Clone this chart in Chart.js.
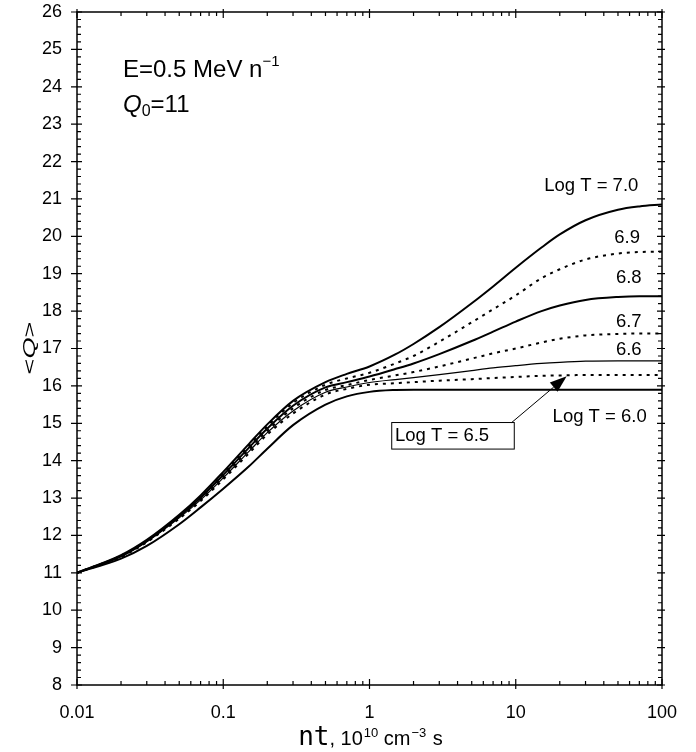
<!DOCTYPE html>
<html>
<head>
<meta charset="utf-8">
<script src="https://cdn.jsdelivr.net/npm/chart.js@4.4.1/dist/chart.umd.min.js"></script>
<style>html,body{margin:0;padding:0;background:#fff}#wrap{width:696px;height:752px}</style>
</head>
<body>
<div id="wrap"><canvas id="c" width="696" height="752"></canvas></div>
<script>
// ==================================================
// Data
// ==================================================
const NT=[0.01,0.02,0.03,0.05,0.07,0.1,0.15,0.2,0.3,0.5,0.7,1,1.5,2,3,5,7,10,15,20,30,50,70,100];
const Q_T70=[11,11.47,11.88,12.55,13.07,13.7,14.45,14.97,15.6,16.1,16.32,16.52,16.84,17.12,17.57,18.21,18.66,19.16,19.7,20.05,20.43,20.71,20.8,20.85];
const Q_T69=[11,11.46,11.86,12.53,13.04,13.66,14.4,14.92,15.54,16.03,16.2,16.35,16.6,16.8,17.18,17.7,18.05,18.42,18.88,19.12,19.38,19.54,19.58,19.59];
const Q_T68=[11,11.45,11.85,12.51,13.01,13.62,14.35,14.86,15.47,15.96,16.1,16.25,16.45,16.6,16.85,17.2,17.45,17.72,18.0,18.15,18.3,18.38,18.4,18.4];
const Q_T67=[11,11.44,11.84,12.49,12.98,13.58,14.3,14.8,15.4,15.89,16.02,16.16,16.28,16.37,16.52,16.73,16.87,17.0,17.16,17.26,17.35,17.39,17.4,17.4];
const Q_T66=[11,11.43,11.83,12.47,12.95,13.54,14.25,14.75,15.33,15.83,15.97,16.09,16.17,16.22,16.3,16.41,16.48,16.54,16.6,16.63,16.66,16.67,16.67,16.67];
const Q_T65=[11,11.42,11.82,12.45,12.92,13.5,14.2,14.7,15.26,15.77,15.92,16.03,16.07,16.1,16.14,16.18,16.21,16.24,16.27,16.28,16.29,16.29,16.29,16.29];
const Q_T60=[11,11.38,11.72,12.3,12.75,13.25,13.85,14.32,14.95,15.5,15.72,15.84,15.89,15.9,15.9,15.9,15.9,15.9,15.9,15.9,15.9,15.9,15.9,15.9];
const X_TICKS=[0.01,0.1,1,10,100];
const Y_MIN=8,Y_MAX=26;

// curve labels: text, anchor (nt, Q), right-aligned
const CURVE_LABELS=[
  {t:'Log T = 7.0',x:68.9,y:21.35},
  {t:'6.9',x:70.7,y:19.95},
  {t:'6.8',x:72.6,y:18.88},
  {t:'6.7',x:72.6,y:17.71},
  {t:'6.6',x:72.6,y:16.96},
  {t:'Log T = 6.0',x:78.6,y:15.17}
];
const BOX_65={t:'Log T = 6.5',x0:1.419,x1:9.77,y0:15.02,y1:14.31,tx:1.494,ty:14.66,ax:9.38,ay:15.02,tipX:22.3,tipY:16.26};

const FONT='"Liberation Sans", Arial, Helvetica, sans-serif';

function line(data,width,dash){
  return {data:NT.map((x,i)=>({x,y:data[i]})),showLine:true,borderColor:'#000',borderWidth:width,
    borderDash:dash||[],pointRadius:0,fill:false,cubicInterpolationMode:'monotone'};
}

// draw a run of text pieces with different fonts / offsets
function drawRun(ctx,parts,x,y,align){
  let w=0;
  parts.forEach(p=>{ctx.font=p.f;w+=ctx.measureText(p.t).width+(p.gap||0);});
  let cx=align==='center'?x-w/2:x;
  ctx.textAlign='left';ctx.textBaseline='alphabetic';
  parts.forEach(p=>{ctx.font=p.f;cx+=(p.gap||0);ctx.fillText(p.t,cx,y+(p.dy||0));cx+=ctx.measureText(p.t).width;});
}

// keep the plot box where the reference has it
function noPad(s){s.paddingTop=0;s.paddingBottom=0;s.paddingLeft=0;s.paddingRight=0;}

// ==================================================
// Frame, inside ticks, annotations
// ==================================================
const decor={id:'decor',afterDatasetsDraw(chart){
  const {ctx,chartArea:a,scales:{x,y}}=chart;
  ctx.save();
  ctx.strokeStyle='#000';ctx.fillStyle='#000';
  ctx.lineWidth=1.5;
  ctx.strokeRect(a.left,a.top,a.right-a.left,a.bottom-a.top);
  ctx.lineWidth=1.2;
  ctx.beginPath();
  // y ticks
  for(let v=Y_MIN;v<=Y_MAX+1e-6;v+=0.2){
    const py=y.getPixelForValue(v),major=Math.abs(v-Math.round(v))<1e-6;
    if(major){ctx.moveTo(a.left-6,py);ctx.lineTo(a.left+5,py);ctx.moveTo(a.right-5,py);ctx.lineTo(a.right+3,py);}
    else{ctx.moveTo(a.left,py);ctx.lineTo(a.left+4,py);ctx.moveTo(a.right-4,py);ctx.lineTo(a.right,py);}
  }
  // x ticks
  for(let d=-2;d<=2;d++){
    for(let m=1;m<=9;m++){
      const v=m*Math.pow(10,d);if(v>100.0001)break;
      const px=x.getPixelForValue(v);
      if(m===1){ctx.moveTo(px,a.bottom+4);ctx.lineTo(px,a.bottom-6);ctx.moveTo(px,a.top-3);ctx.lineTo(px,a.top+6);}
      else{ctx.moveTo(px,a.bottom);ctx.lineTo(px,a.bottom-4);ctx.moveTo(px,a.top);ctx.lineTo(px,a.top+4);}
    }
  }
  ctx.stroke();

  // curve labels
  ctx.font='18.5px '+FONT;ctx.textAlign='right';ctx.textBaseline='middle';
  CURVE_LABELS.forEach(l=>ctx.fillText(l.t,x.getPixelForValue(l.x),y.getPixelForValue(l.y)));

  // boxed label with arrow
  const b=BOX_65;
  const bx0=x.getPixelForValue(b.x0),bx1=x.getPixelForValue(b.x1),by0=y.getPixelForValue(b.y0),by1=y.getPixelForValue(b.y1);
  ctx.lineWidth=1;
  ctx.strokeRect(bx0,by0,bx1-bx0,by1-by0);
  ctx.textAlign='left';
  ctx.fillText(b.t,x.getPixelForValue(b.tx),y.getPixelForValue(b.ty));
  const ax=x.getPixelForValue(b.ax),ay=y.getPixelForValue(b.ay),tx=x.getPixelForValue(b.tipX),ty=y.getPixelForValue(b.tipY);
  const ang=Math.atan2(ty-ay,tx-ax),hl=17,hw=6;
  const bxp=tx-hl*Math.cos(ang),byp=ty-hl*Math.sin(ang);
  ctx.beginPath();ctx.moveTo(ax,ay);ctx.lineTo(bxp,byp);ctx.stroke();
  ctx.beginPath();ctx.moveTo(tx,ty);
  ctx.lineTo(bxp+hw*Math.sin(ang),byp-hw*Math.cos(ang));
  ctx.lineTo(bxp-hw*Math.sin(ang),byp+hw*Math.cos(ang));
  ctx.closePath();ctx.fill();

  // top-left annotation
  drawRun(ctx,[{t:'E=0.5 MeV n',f:'24px '+FONT},{t:'\u22121',f:'15px '+FONT,dy:-11}],a.left+46,a.top+65,'left');
  drawRun(ctx,[{t:'Q',f:'italic 24px '+FONT},{t:'0',f:'16px '+FONT,dy:4},{t:'=11',f:'24px '+FONT}],a.left+46,a.top+100,'left');

  // x title
  const cx=(a.left+a.right)/2+1;
  drawRun(ctx,[{t:'nt',f:'26px "DejaVu Sans Mono", monospace'},{t:', 10',f:'20px '+FONT},{t:'10',f:'13px '+FONT,dy:-8,gap:1},
    {t:' cm',f:'20px '+FONT},{t:'\u22123',f:'13px '+FONT,dy:-8,gap:1},{t:' s',f:'20px '+FONT,gap:1}],cx,745,'center');

  // y title, stretched along the text
  ctx.save();
  ctx.translate(29,348);ctx.rotate(-Math.PI/2);ctx.scale(1.6,1);
  drawRun(ctx,[{t:'<',f:'17px '+FONT},{t:'Q',f:'italic 17px '+FONT},{t:'>',f:'17px '+FONT}],0,6,'center');
  ctx.restore();
  ctx.restore();
}};

new Chart(document.getElementById('c'),{
  type:'scatter',
  data:{datasets:[
    line(Q_T70,2),line(Q_T69,2,[3,5]),line(Q_T68,2),line(Q_T67,2,[3,5]),
    line(Q_T66,1.2),line(Q_T65,2,[3,5]),line(Q_T60,2)
  ]},
  options:{
    responsive:false,animation:false,devicePixelRatio:1,
    layout:{padding:{top:12,right:34,left:0,bottom:0}},
    plugins:{legend:{display:false},tooltip:{enabled:false}},
    scales:{
      x:{type:'logarithmic',min:0.01,max:100,
        grid:{display:false,drawTicks:false},border:{display:false},
        afterBuildTicks:s=>{s.ticks=X_TICKS.map(v=>({value:v}));},
        afterFit:s=>{s.height=67;noPad(s);},
        ticks:{font:{size:18,family:FONT},color:'#000',padding:17,maxRotation:0,autoSkip:false,callback:v=>String(v)}},
      y:{min:Y_MIN,max:Y_MAX,
        grid:{display:false,drawTicks:false},border:{display:false},
        afterFit:s=>{s.width=77;noPad(s);},
        ticks:{stepSize:1,font:{size:18,family:FONT},color:'#000',padding:15}}
    }
  },
  plugins:[decor]
});
</script>
</body>
</html>
